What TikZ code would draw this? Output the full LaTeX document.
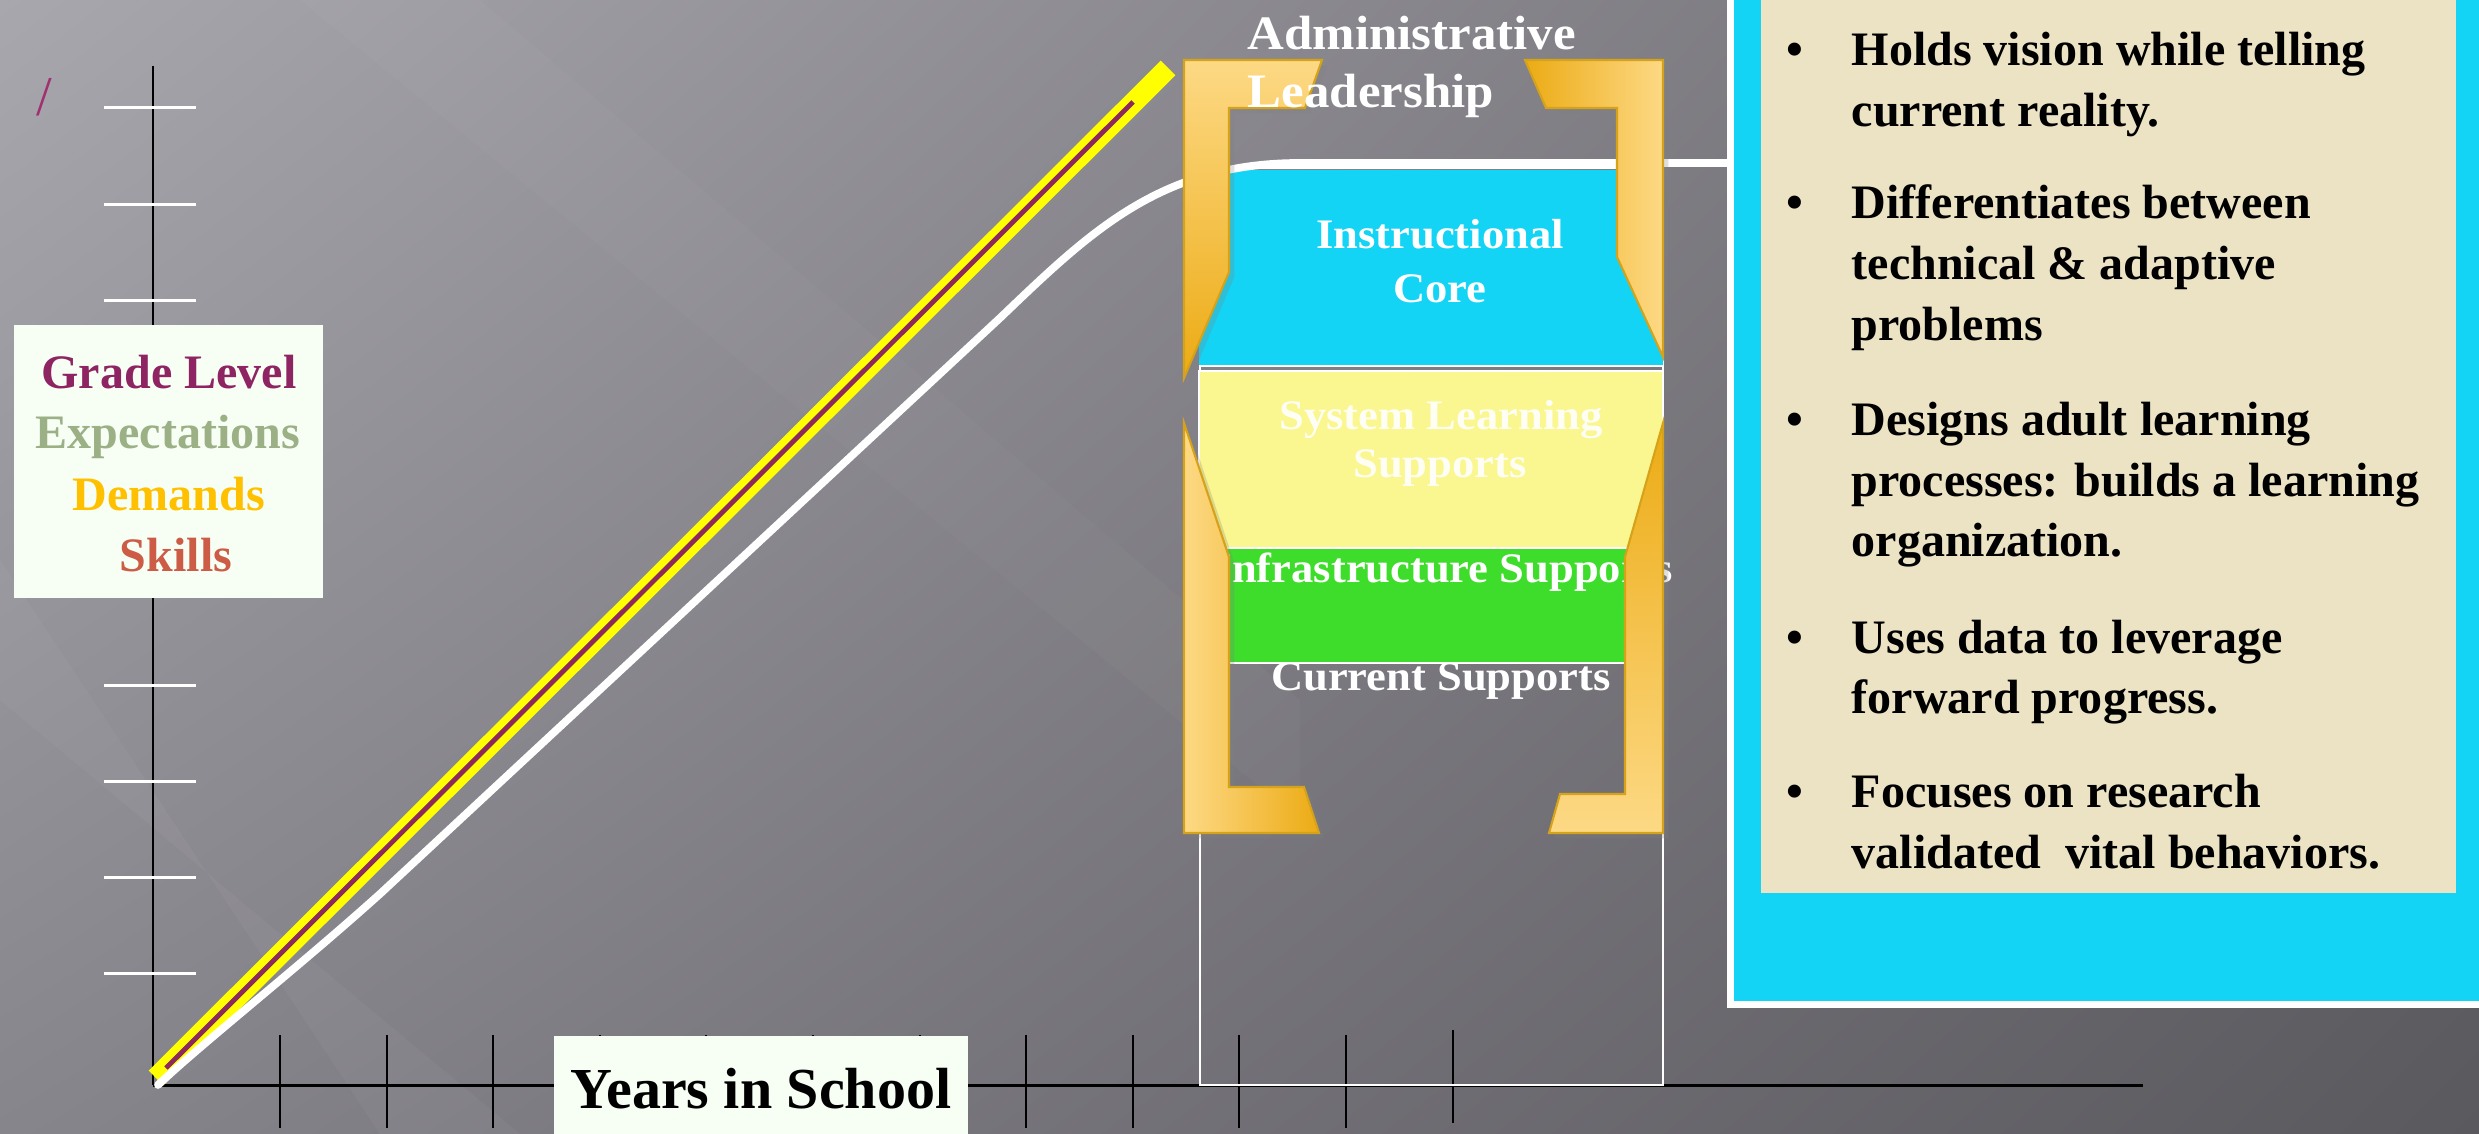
\documentclass[tikz,border=0pt]{standalone}
\usepackage{fontspec}
\setmainfont{Liberation Serif}
\newfontfamily\palfont[FakeStretch=1.06]{Liberation Serif}
\usetikzlibrary{shadows,shadings}
\definecolor{bgUL}{HTML}{A9A7AE}
\definecolor{bgUR}{HTML}{6E6D72}
\definecolor{bgLL}{HTML}{87858C}
\definecolor{bgLR}{HTML}{5A595E}
\definecolor{cyanC}{HTML}{13D4F5}
\definecolor{beige}{HTML}{EBE3C4}
\definecolor{yelbox}{HTML}{FAF690}
\definecolor{grnbox}{HTML}{3EDD2B}
\definecolor{goldL}{HTML}{FDD985}
\definecolor{goldD}{HTML}{ECAB14}
\definecolor{goldE}{HTML}{D6A21A}
\definecolor{maroon}{HTML}{8C2A5E}
\definecolor{cGrade}{HTML}{8E2462}
\definecolor{cExpect}{HTML}{9CB086}
\definecolor{cDemand}{HTML}{FFC000}
\definecolor{cSkill}{HTML}{CC5C46}
\definecolor{cSlash}{HTML}{A03070}
\definecolor{labbg}{HTML}{F7FFF5}
\definecolor{bandY}{HTML}{FFFF00}
\begin{document}
\begin{tikzpicture}[x=0.01cm,y=-0.01cm,
  bul/.style={font=\bfseries\fontsize{13.66pt}{17pt}\selectfont, text=black, inner sep=0pt, anchor=base west},
  lab/.style={font=\palfont\bfseries\fontsize{11.95pt}{14pt}\selectfont, text=white, inner sep=0pt, anchor=base},
  adm/.style={font=\palfont\bfseries\fontsize{13.66pt}{16pt}\selectfont, text=white, inner sep=0pt, anchor=base west},
  gl/.style={font=\bfseries\fontsize{13.66pt}{17pt}\selectfont, inner sep=0pt, anchor=base},
  axisline/.style={black, line width=0.85pt},
  xtickline/.style={black, line width=0.6pt},
  ytickline/.style={white, line width=0.85pt},
  boxline/.style={white, line width=0.5pt},
  bracket/.style={draw=goldE, line width=0.6pt, line join=miter,
     drop shadow={shadow xshift=1.5pt, shadow yshift=-1.5pt, opacity=0.25}},
  labelbox/.style={fill=labbg, inner sep=0pt}
]
\useasboundingbox (0,0) rectangle (2479,1134);
\clip (0,0) rectangle (2479,1134);
% background
\shade[upper left=bgUL, upper right=bgUR, lower left=bgLL, lower right=bgLR] (0,0) rectangle (2479,1134);
\fill[white, opacity=0.035] (0,560) -- (0,700) -- (520,1134) -- (380,1134) -- cycle;
\fill[white, opacity=0.025] (300,0) -- (480,0) -- (1300,700) -- (1300,820) -- cycle;
% axes
\draw[axisline, line width=0.6pt] (153,66) -- (153,1085);
\foreach \k in {0,...,9} {\draw[ytickline] (104,{108+96.2*\k}) -- (196,{108+96.2*\k});}
\draw[axisline] (153,1085) -- (2143,1085);
\foreach \k in {0,...,10} {\draw[xtickline] ({280+106.6*\k},1035) -- ({280+106.6*\k},1128);}
\draw[xtickline] (1453,1030) -- (1453,1123);
% column
\draw[boxline, line width=0.6pt] (1200,168) rectangle (1663,1085);
\fill[cyanC] (1199,170) rectangle (1663,366);
\draw[boxline] (1199,366) -- (1663,366);
\filldraw[fill=yelbox, draw=white, line width=0.5pt] (1199,371) rectangle (1663,548);
\filldraw[fill=grnbox, draw=white, line width=0.5pt] (1199,548) rectangle (1663,663);
% yellow band
\draw[bandY, line width=5.9pt] (156,1078) -- (1168,68);
\draw[maroon, line width=1.4pt] (166,1068) -- (1133,102);
% white curve
\coordinate (c0) at (158,1085);
\coordinate (c1) at (381,893);
\coordinate (c2) at (1000,318);
\coordinate (c3) at (1300,163);
\coordinate (c4) at (1727,163);
\draw[white, line width=2.2pt, line cap=round] (c0) .. controls (200,1045) and (300,966) .. (c1) -- (c2) .. controls (1090,232) and (1160,163) .. (c3) -- (c4);
% inner labels
\node[lab] (ic1) at (1440,249) {Instructional};
\node[lab] (ic2) at (1440,303) {Core};
\node[lab, text opacity=0.9] (sl1) at (1441,430) {System Learning};
\node[lab, text opacity=0.9] (sl2) at (1440,478) {Supports};
\node[lab] (inf) at (1444,583) {Infrastructure Supports};
\node[lab] (cur) at (1441,690) {Current Supports};
% brackets
\shade[bracket, top color=goldL, bottom color=goldD] (1184,60) -- (1322,60) -- (1305,108) -- (1229,108) -- (1229,272) -- (1184,378) -- cycle;
\shade[bracket, left color=goldD, right color=goldL] (1525,60) -- (1663,60) -- (1663,357) -- (1617,257) -- (1617,108) -- (1546,108) -- cycle;
\shade[bracket, left color=goldL, right color=goldD] (1184,423) -- (1229,557) -- (1229,787) -- (1304,787) -- (1319,833) -- (1184,833) -- cycle;
\shade[bracket, top color=goldD, bottom color=goldL] (1663,423) -- (1663,833) -- (1549,833) -- (1560,794) -- (1625,794) -- (1625,557) -- cycle;
% admin text
\node[adm] (adm1) at (1247,50) {Administrative};
\node[adm] (adm2) at (1247,108) {Leadership};
% right panel
\fill[white] (1727,-20) rectangle (2500,1008);
\fill[cyanC] (1734,-20) rectangle (2500,1001);
\fill[beige] (1761,-20) rectangle (2456,893);
\foreach \nm/\y in {b1/66, b2/219, b3/436, b4/653, b5/807} {\node[bul] (\nm) at (1786,\y) {\textbullet};}
\node[bul] (l1) at (1851,66) {Holds vision while telling};
\node[bul] (l2) at (1851,127) {current reality.};
\node[bul] (l3) at (1851,219) {Differentiates between};
\node[bul] (l4) at (1851,280) {technical \& adaptive};
\node[bul] (l5) at (1851,341) {problems};
\node[bul] (l6) at (1851,436) {Designs adult learning};
\node[bul] (l7) at (1851,497) {processes: builds a learning};
\node[bul] (l8) at (1851,557) {organization.};
\node[bul] (l9) at (1851,653) {Uses data to leverage};
\node[bul] (l10) at (1851,713) {forward progress.};
\node[bul] (l11) at (1851,807) {Focuses on research};
\node[bul] (l12) at (1851,868) {validated\ \ vital behaviors.};
% grade level box
\node[labelbox, minimum width=3.09cm, minimum height=2.73cm] (glbox) at (168.5,461.5) {};
\node[gl, text=cGrade] (g1) at (169,389) {Grade Level};
\node[gl, text=cExpect] (g2) at (168,449) {Expectations};
\node[gl, text=cDemand] (g3) at (169,511) {Demands};
\node[gl, text=cSkill] (g4) at (176,572) {Skills};
% years box
\node[labelbox, minimum width=4.14cm, minimum height=1.05cm] (ybox) at (761,1089) {};
\node[gl, font=\bfseries\fontsize{16.5pt}{19pt}\selectfont, text=black] (yrs) at (761,1108) {Years in School};
% slash
\node[text=cSlash, inner sep=0pt, font=\fontsize{16pt}{18pt}\selectfont] (sl) at (44,97) {/};
\end{tikzpicture}
\end{document}
